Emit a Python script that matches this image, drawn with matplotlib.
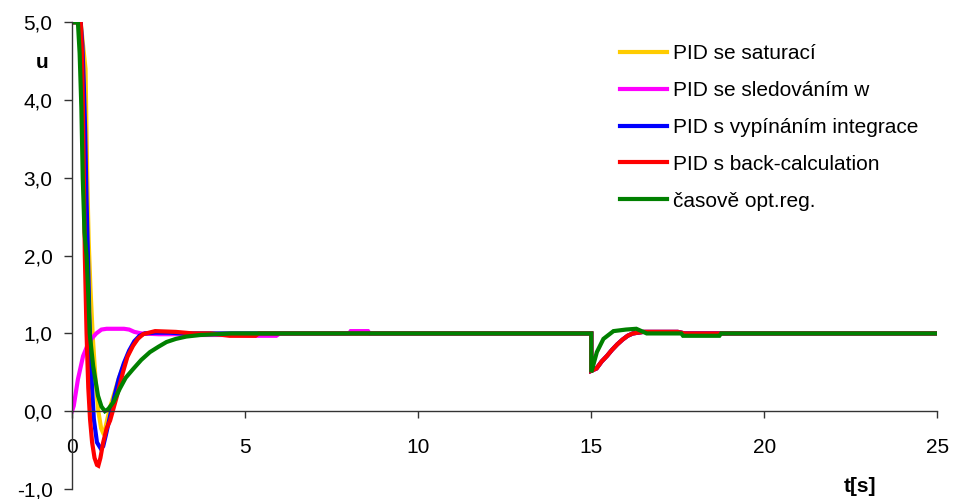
import numpy as np
import matplotlib
matplotlib.use("Agg")
import matplotlib.pyplot as plt
from matplotlib.ticker import FuncFormatter

plt.rcParams['font.family'] = ['Liberation Sans', 'DejaVu Sans']

# --- data: controller output u(t) ---
labels = ['PID se saturací', 'PID se sledováním w', 'PID s vypínáním integrace',
          'PID s back-calculation', 'časově opt.reg.']
colors = ['#FFCC00', '#FF00FF', '#0000FF', '#FF0000', '#008000']

# response of the PID variants to the load step at t = 15 s
t_dist = [15.0, 15.0, 15.15, 15.3, 15.45, 15.6, 15.75, 15.9, 16.05, 16.2, 16.5, 17.0, 17.5, 17.7, 25.0]
u_dist = [1.0, 0.52, 0.55, 0.64, 0.71, 0.79, 0.86, 0.92, 0.97, 1.0, 1.02, 1.02, 1.02, 1.0, 1.0]

t_sat = [0, 0.25, 0.32, 0.39, 0.44, 0.48, 0.53, 0.6, 0.68, 0.76, 0.84, 0.89, 0.95, 1.02, 1.1, 1.2,
         1.35, 1.5, 1.65, 1.8, 1.95, 2.1, 2.4, 2.8, 3.2, 3.8, 4.5]
u_sat = [5, 5, 4.7, 4.4, 3.0, 2.2, 1.6, 0.95, 0.4, 0.0, -0.22, -0.27, -0.24, -0.1, 0.05, 0.2,
         0.42, 0.6, 0.76, 0.88, 0.96, 1.0, 1.01, 1.01, 1.0, 1.0, 1.0]

t_track = [0, 0.05, 0.17, 0.32, 0.45, 0.56, 0.7, 0.85, 1.0, 1.2, 1.5, 1.65, 1.8, 2.0, 2.5, 3.0,
           3.5, 4.0, 4.65, 5.3, 5.9, 6.0, 8.0, 8.05, 8.55, 8.6, 15.0]
u_track = [0, 0.07, 0.41, 0.71, 0.85, 0.93, 1.0, 1.05, 1.06, 1.06, 1.06, 1.05, 1.02, 1.0, 0.99, 0.99,
           0.98, 0.98, 0.98, 0.97, 0.97, 1.0, 1.0, 1.03, 1.03, 1.0, 1.0]

t_cond = [0, 0.25, 0.3, 0.34, 0.38, 0.42, 0.46, 0.5, 0.56, 0.63, 0.72, 0.83, 0.9, 0.98, 1.08, 1.2,
          1.35, 1.5, 1.65, 1.8, 1.95, 2.1, 2.4, 2.8, 3.2, 3.8, 4.5]
u_cond = [5, 5, 4.7, 4.2, 3.6, 2.7, 2.0, 1.2, 0.45, -0.1, -0.4, -0.48, -0.45, -0.3, -0.1, 0.15,
          0.42, 0.62, 0.78, 0.9, 0.97, 1.0, 1.01, 1.01, 1.0, 1.0, 1.0]

t_back = [0, 0.25, 0.29, 0.33, 0.37, 0.42, 0.47, 0.52, 0.58, 0.65, 0.72, 0.76, 0.82, 0.9, 1.0, 1.1,
          1.3, 1.47, 1.6, 1.76, 1.9, 2.05, 2.4, 3.0, 3.5, 4.0, 4.55, 5.3, 5.4, 6.0]
u_back = [5, 5, 4.6, 3.4, 2.0, 1.0, 0.3, -0.1, -0.4, -0.6, -0.69, -0.7, -0.6, -0.4, -0.22, -0.12,
          0.2, 0.5, 0.7, 0.84, 0.93, 0.99, 1.03, 1.02, 1.0, 1.0, 0.97, 0.97, 1.0, 1.0]

t_opt = [0, 0.17, 0.22, 0.27, 0.31, 0.36, 0.42, 0.47, 0.51, 0.61, 0.75, 0.85, 0.95, 1.05, 1.2,
         1.38, 1.55, 1.76, 2.0, 2.25, 2.5, 2.73, 3.0, 3.3, 3.7, 4.2, 4.6,
         15.0, 15.0, 15.16, 15.35, 15.64, 16.0, 16.3, 16.6, 17.6, 17.65, 18.7, 18.75, 25.0]
u_opt = [5, 5, 4.6, 3.9, 3.0, 2.3, 2.0, 1.5, 1.0, 0.58, 0.2, 0.06, 0.0, 0.03, 0.12,
         0.29, 0.43, 0.54, 0.66, 0.76, 0.83, 0.89, 0.93, 0.96, 0.98, 0.99, 1.0,
         1.0, 0.5, 0.76, 0.93, 1.03, 1.05, 1.06, 1.0, 1.0, 0.97, 0.97, 1.0, 1.0]

series = [
    (t_sat + t_dist, u_sat + u_dist),
    (t_track + t_dist, u_track + u_dist),
    (t_cond + t_dist, u_cond + u_dist),
    (t_back + t_dist, u_back + u_dist),
    (t_opt, u_opt),
]

fs = 15

fig = plt.figure(figsize=(9.54, 4.99), dpi=100)
ax = fig.add_axes([0.0755, 0.02, 0.9072, 0.9353])

for (t, u), lab, c in zip(series, labels, colors):
    ax.plot(t, u, color=c, lw=3.0, label=lab, solid_joinstyle='miter')

ax.set_xlim(0, 25)
ax.set_ylim(-1, 5)
ax.set_xticks([0, 5, 10, 15, 20, 25])
ax.set_yticks([-1, 0, 1, 2, 3, 4, 5])
ax.yaxis.set_major_formatter(FuncFormatter(lambda v, p: ('%.1f' % v).replace('.', ',')))

ax.spines['top'].set_visible(False)
ax.spines['right'].set_visible(False)
ax.spines['bottom'].set_position(('data', 0))
for s in ('left', 'bottom'):
    ax.spines[s].set_linewidth(1.0)
    ax.spines[s].set_color('#333333')

ax.tick_params(axis='y', direction='out', length=6, width=1, pad=8, labelsize=fs, color='#333333')
ax.tick_params(axis='x', direction='out', length=5, width=1, pad=14, labelsize=fs, color='#333333')

fig.text(0.044, 0.874, 'u', fontsize=fs, fontweight='bold', ha='center', va='center')
fig.text(0.901, 0.025, 't[s]', fontsize=fs, fontweight='bold', ha='center', va='center')

ax.legend(loc='upper left', bbox_to_anchor=(620 / 954, 1 - 44 / 499), bbox_transform=fig.transFigure,
          frameon=False, fontsize=fs, handlelength=2.25, handletextpad=0.3, labelspacing=0.86,
          borderpad=0, borderaxespad=0)

fig.savefig('out.png', dpi=100)
